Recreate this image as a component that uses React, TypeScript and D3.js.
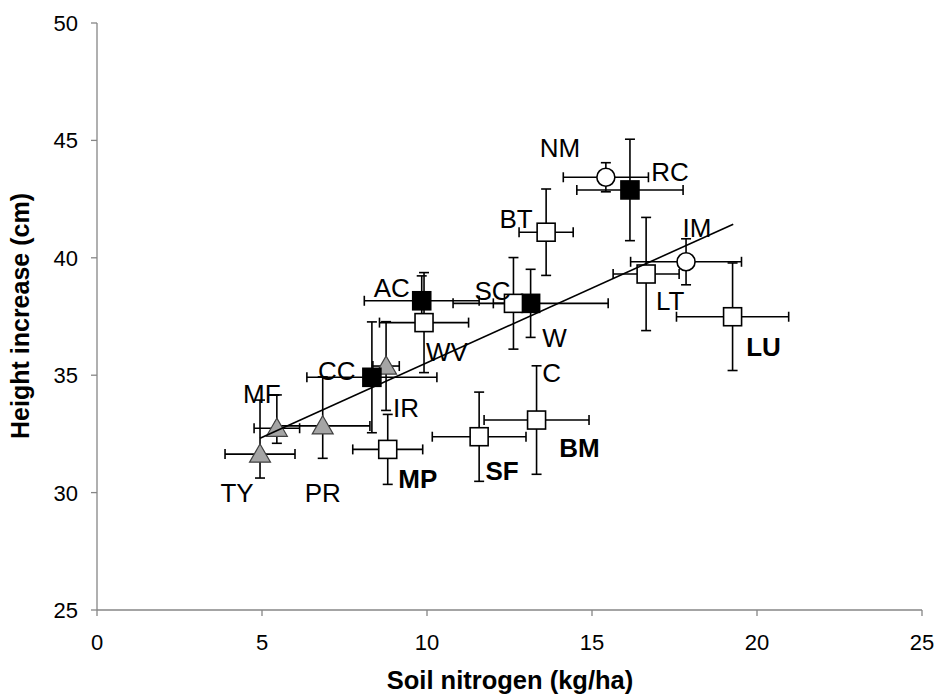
import React from "react";
import * as d3 from "d3";

// ---------- data ----------
const names = ["TY", "MF", "PR", "IR", "CC", "AC", "W", "RC", "NM", "IM", "WV", "SC", "BT", "LT", "LU", "BM", "SF", "MP"];
const groups = ["tri", "tri", "tri", "tri", "blk", "blk", "blk", "blk", "cir", "cir", "wht", "wht", "wht", "wht", "wht", "wht", "wht", "wht"];
const soilN = [4.94, 5.45, 6.84, 8.76, 8.33, 9.84, 13.14, 16.15, 15.42, 17.85, 9.91, 12.62, 13.61, 16.64, 19.26, 13.32, 11.58, 8.81];
const height = [31.64, 32.74, 32.84, 35.39, 34.91, 38.17, 38.06, 42.89, 43.43, 39.83, 37.24, 38.06, 41.09, 39.31, 37.49, 33.09, 32.38, 31.84];
const xErr = [1.06, 0.69, 1.43, 0.4, 1.97, 1.74, 2.35, 1.61, 1.29, 1.68, 1.35, 0.61, 0.82, 1.0, 1.7, 1.59, 1.42, 1.06];
const yErrPlus = [2.3, 1.42, 2.09, 1.89, 2.36, 1.06, 1.45, 2.16, 0.62, 0.98, 2.13, 1.95, 1.84, 2.41, 2.29, 2.31, 1.9, 1.49];
const yErrMinus = [1.02, 0.64, 1.38, 1.89, 2.36, 1.06, 1.45, 2.16, 0.62, 0.98, 2.13, 1.95, 1.84, 2.41, 2.29, 2.31, 1.9, 1.49];

// labels: text, point it belongs to, bold ones
const labelText = ["NM", "RC", "BT", "IM", "AC", "SC", "LT", "W", "WV", "LU", "CC", "C", "MF", "IR", "BM", "MP", "SF", "TY", "PR"];
const labelPoint = ["NM", "RC", "BT", "IM", "AC", "SC", "LT", "W", "WV", "LU", "CC", "BM", "MF", "IR", "BM", "MP", "SF", "TY", "PR"];
const labelBold = ["LU", "BM", "MP", "SF"];

// trendline
const trendX = [4.94, 19.28];
const trendIntercept = 29.17;
const trendSlope = 0.636;

const xTicks = [0, 5, 10, 15, 20, 25];
const yTicks = [25, 30, 35, 40, 45, 50];

// ---------- layout ----------
const W = 935;
const H = 694;
const labelOffsets: Record<string, [number, number]> = {
  NM: [-46, -30], RC: [40, -18], BT: [-30, -14], IM: [11, -34], AC: [-30, -13],
  SC: [-21, -13], LT: [24, 27], W: [24, 34], WV: [23, 29], LU: [31, 30],
  CC: [-35, -7], C: [15, -47], MF: [-15, -35], IR: [20, 42], BM: [43, 28],
  MP: [30, 29], SF: [23, 34], TY: [-23, 39], PR: [0, 67],
};

export default function App() {
  const x = d3.scaleLinear().domain([0, 25]).range([97, 922]);
  const y = d3.scaleLinear().domain([25, 50]).range([610, 23]);
  const axisColor = "#868686";
  const font = "Liberation Sans, Arial, sans-serif";
  const cap = 5;

  const tri = d3.symbol().type(d3.symbolTriangle).size(190)();

  return (
    <svg width={W} height={H} style={{ position: "absolute", left: 0, top: 0, background: "#fff" }} fontFamily={font}>
      {/* axes */}
      <line x1={x(0)} x2={x(25)} y1={y(25)} y2={y(25)} stroke={axisColor} strokeWidth={1.3} />
      <line x1={x(0)} x2={x(0)} y1={y(25)} y2={y(50)} stroke={axisColor} strokeWidth={1.3} />
      {xTicks.map((t) => (
        <g key={"xt" + t}>
          <line x1={x(t)} x2={x(t)} y1={y(25)} y2={y(25) + 6} stroke={axisColor} strokeWidth={1.3} />
          <text x={x(t)} y={650} textAnchor="middle" fontSize={22} fill="#000">{t}</text>
        </g>
      ))}
      {yTicks.map((t) => (
        <g key={"yt" + t}>
          <line x1={x(0) - 6} x2={x(0)} y1={y(t)} y2={y(t)} stroke={axisColor} strokeWidth={1.3} />
          <text x={78} y={y(t) + 8} textAnchor="end" fontSize={22} fill="#000">{t}</text>
        </g>
      ))}
      <text x={510} y={689} textAnchor="middle" fontSize={25.5} fontWeight="bold">Soil nitrogen (kg/ha)</text>
      <text transform={`translate(29,316) rotate(-90)`} textAnchor="middle" fontSize={25} fontWeight="bold">Height increase (cm)</text>

      {/* error bars */}
      {names.map((n, i) => {
        const cx = x(soilN[i]);
        const cy = y(height[i]);
        const xl = x(soilN[i] - xErr[i]);
        const xr = x(soilN[i] + xErr[i]);
        const yt = y(height[i] + yErrPlus[i]);
        const yb = y(height[i] - yErrMinus[i]);
        return (
          <g key={"eb" + n} stroke="#000" strokeWidth={1.6}>
            <line x1={xl} x2={xr} y1={cy} y2={cy} />
            <line x1={xl} x2={xl} y1={cy - cap} y2={cy + cap} />
            <line x1={xr} x2={xr} y1={cy - cap} y2={cy + cap} />
            <line x1={cx} x2={cx} y1={yt} y2={yb} />
            <line x1={cx - cap} x2={cx + cap} y1={yt} y2={yt} />
            <line x1={cx - cap} x2={cx + cap} y1={yb} y2={yb} />
          </g>
        );
      })}

      {/* markers */}
      {names.map((n, i) => {
        const cx = x(soilN[i]);
        const cy = y(height[i]);
        const g = groups[i];
        if (g === "tri")
          return <path key={"m" + n} d={tri} transform={`translate(${cx},${cy + 2})`} fill="#a5a5a5" stroke="#404040" strokeWidth={1.2} />;
        if (g === "cir")
          return <circle key={"m" + n} cx={cx} cy={cy} r={9} fill="#fff" stroke="#000" strokeWidth={1.6} />;
        return (
          <rect key={"m" + n} x={cx - 9} y={cy - 9} width={18} height={18}
            fill={g === "blk" ? "#000" : "#fff"} stroke="#000" strokeWidth={1.6} />
        );
      })}

      {/* trendline */}
      <line x1={x(trendX[0])} x2={x(trendX[1])}
        y1={y(trendIntercept + trendSlope * trendX[0])} y2={y(trendIntercept + trendSlope * trendX[1])}
        stroke="#000" strokeWidth={1.6} />

      {/* labels */}
      {labelText.map((t, k) => {
        const i = names.indexOf(labelPoint[k]);
        const off = labelOffsets[t];
        return (
          <text key={"lb" + k} x={x(soilN[i]) + off[0]} y={y(height[i]) + off[1]} dy="0.36em"
            textAnchor="middle" fontSize={26} fontWeight={labelBold.includes(t) ? "bold" : "normal"} fill="#000">
            {t}
          </text>
        );
      })}
    </svg>
  );
}
